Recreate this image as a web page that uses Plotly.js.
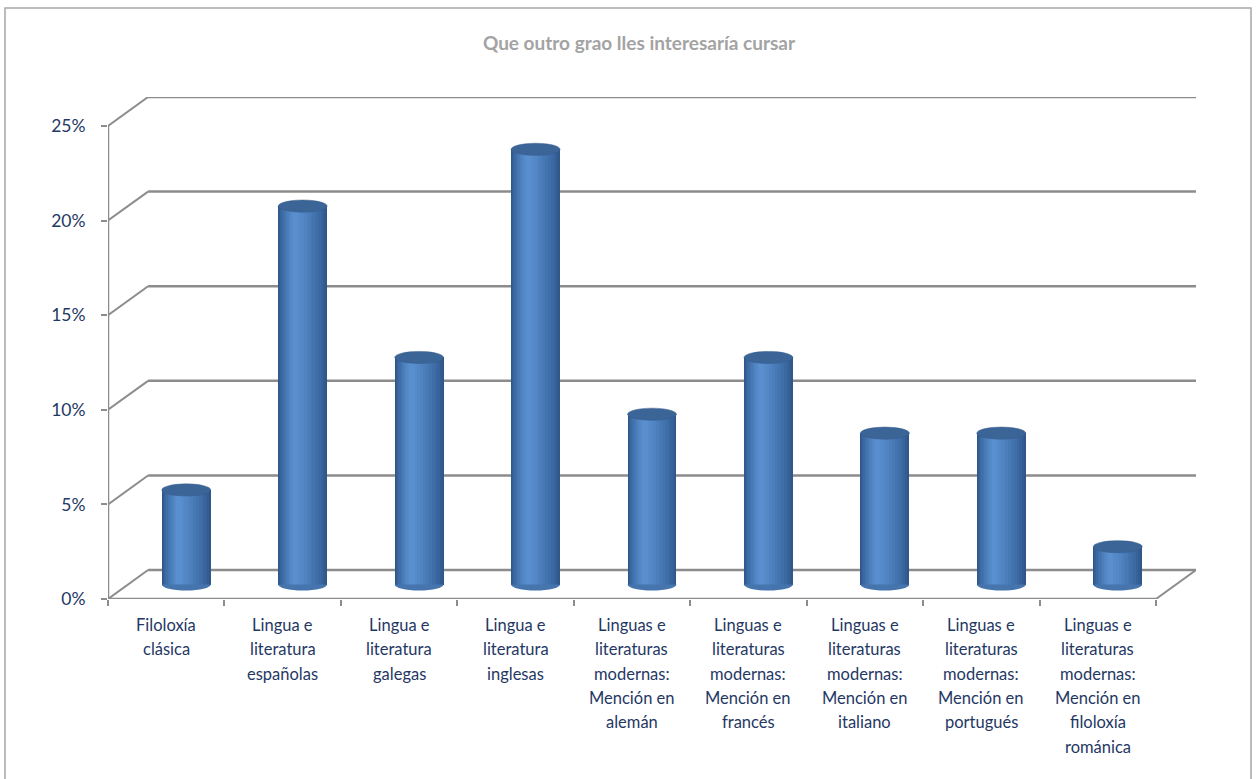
<!DOCTYPE html>
<html>
<head>
<meta charset="utf-8">
<script src="https://cdn.plot.ly/plotly-3.0.1.min.js"></script>
<style>html,body{margin:0;padding:0;background:#fff;}#chart{width:1256px;height:779px;}</style>
</head>
<body>
<div id="chart"></div>
<script>
// ---- data ----
const categories = [
  "Filoloxía<br>clásica",
  "Lingua e<br>literatura<br>españolas",
  "Lingua e<br>literatura<br>galegas",
  "Lingua e<br>literatura<br>inglesas",
  "Linguas e<br>literaturas<br>modernas:<br>Mención en<br>alemán",
  "Linguas e<br>literaturas<br>modernas:<br>Mención en<br>francés",
  "Linguas e<br>literaturas<br>modernas:<br>Mención en<br>italiano",
  "Linguas e<br>literaturas<br>modernas:<br>Mención en<br>portugués",
  "Linguas e<br>literaturas<br>modernas:<br>Mención en<br>filoloxía<br>románica"
];
const values = [5, 20, 12, 23, 9, 12, 8, 8, 2];
const yTickVals = [0, 5, 10, 15, 20, 25];
const yTickText = ["0%", "5%", "10%", "15%", "20%", "25%"];
const titleText = "Que outro grao lles interesaría cursar";

// ---- 3D-look geometry (style) ----
const N = categories.length;
const DX = 0.344;      // depth offset in category units
const DY = 1.53;       // depth offset in value units
const W = 0.42;        // cylinder width
const EH = 0.32;       // ellipse half-height (value units)
const gridColor = "#8c8c8c";
const textColor = "#1f3864";

const centers = categories.map((c, i) => i + 0.5);
const cylX = centers.map(c => c + DX / 2);
const baseY = DY / 2;

// shading layers: [start fraction, end fraction, color]
const layers = [
  [0.00, 1.00, "#2f578a"],
  [0.02, 0.96, "#335d92"],
  [0.04, 0.92, "#37639a"],
  [0.06, 0.87, "#3b69a1"],
  [0.09, 0.82, "#3f6ea8"],
  [0.12, 0.76, "#4374ae"],
  [0.15, 0.70, "#4779b4"],
  [0.18, 0.64, "#4b7ebb"],
  [0.21, 0.58, "#4f83c1"],
  [0.24, 0.52, "#5387c6"],
  [0.27, 0.46, "#568bca"],
  [0.30, 0.41, "#598fce"]
];

const traces = layers.map(L => ({
  type: "bar",
  x: cylX,
  y: values,
  base: values.map(() => baseY),
  width: values.map(() => W * (L[1] - L[0])),
  offset: values.map(() => -W / 2 + W * L[0]),
  marker: { color: L[2], line: { width: 0 } },
  hoverinfo: "skip",
  showlegend: false
}));

// invisible trace for the tick-mark axis
traces.push({ type: "scatter", x: [0, N], y: [0, 0], xaxis: "x2", yaxis: "y",
  mode: "markers", marker: { opacity: 0 }, hoverinfo: "skip", showlegend: false });

const shapes = [];
// back wall gridlines + diagonals
yTickVals.forEach(v => {
  shapes.push({ type: "line", xref: "x", yref: "y", x0: DX, y0: v + DY, x1: N + DX, y1: v + DY,
    line: { color: gridColor, width: 2.5 }, layer: "below" });
  shapes.push({ type: "line", xref: "x", yref: "y", x0: 0, y0: v, x1: DX, y1: v + DY,
    line: { color: gridColor, width: 2 }, layer: "below" });
});
// floor front edge and right edge, front vertical axis
shapes.push({ type: "line", xref: "x", yref: "y", x0: 0, y0: 0, x1: N, y1: 0,
  line: { color: gridColor, width: 2.5 }, layer: "below" });
shapes.push({ type: "line", xref: "x", yref: "y", x0: N, y0: 0, x1: N + DX, y1: DY,
  line: { color: gridColor, width: 2 }, layer: "below" });
shapes.push({ type: "line", xref: "x", yref: "y", x0: 0, y0: 0, x1: 0, y1: yTickVals[yTickVals.length - 1],
  line: { color: gridColor, width: 2.5 }, layer: "below" });

// cylinder bottoms (lower half ellipse) and tops
function halfEllipse(xc, yc, a, b) {
  const k = 0.5523;
  return `M ${xc - a},${yc} C ${xc - a},${yc - k * b} ${xc - k * a},${yc - b} ${xc},${yc - b} ` +
         `C ${xc + k * a},${yc - b} ${xc + a},${yc - k * b} ${xc + a},${yc} Z`;
}
cylX.forEach((xc, i) => {
  shapes.push({ type: "path", xref: "x", yref: "y", path: halfEllipse(xc, baseY, W / 2, EH),
    fillcolor: "#4675ae", line: { width: 0 }, layer: "above" });
  const top = baseY + values[i];
  shapes.push({ type: "circle", xref: "x", yref: "y", x0: xc - W / 2, x1: xc + W / 2,
    y0: top - EH, y1: top + EH, fillcolor: "#3c6597", line: { color: "#35598a", width: 0.5 }, layer: "above" });
});

// outer chart border (paper coords)
const L0 = 108, R0 = 1196, T0 = 97, B0 = 599;
const px = p => (p - L0) / (R0 - L0);
const py = p => (B0 - p) / (B0 - T0);
shapes.push({ type: "rect", xref: "paper", yref: "paper", x0: px(5), x1: px(1251), y0: py(800), y1: py(8),
  line: { color: "#a6a6a6", width: 1.5 }, fillcolor: "rgba(0,0,0,0)" });

// category labels, one annotation per line (for Excel-like line spacing)
const annotations = [];
categories.forEach((c, i) => {
  c.split("<br>").forEach((line, k) => {
    annotations.push({ xref: "x", yref: "paper", x: centers[i], y: 0, text: line, showarrow: false,
      xanchor: "center", yanchor: "middle", yshift: -(26 + 24.3 * k),
      font: { size: 16.5, color: textColor } });
  });
});

const layout = {
  width: 1256, height: 779,
  margin: { l: L0, r: 1256 - R0, t: T0, b: 779 - B0, pad: 0 },
  paper_bgcolor: "#ffffff", plot_bgcolor: "rgba(0,0,0,0)",
  font: { family: "Lato, 'Open Sans', sans-serif", color: textColor, size: 16 },
  title: { text: "<b>" + titleText + "</b>", font: { family: "Lato, sans-serif", size: 19, color: "#a3a3a3" },
    x: (639 - L0) / (R0 - L0), xref: "paper", xanchor: "center", y: 1 - 43 / 779, yref: "container", yanchor: "middle" },
  barmode: "overlay",
  bargap: 0,
  showlegend: false,
  xaxis: {
    range: [0, N + DX], showgrid: false, zeroline: false, showline: false,
    tickmode: "array", tickvals: centers, ticktext: categories, showticklabels: false, ticks: "",
    fixedrange: true
  },
  xaxis2: {
    overlaying: "x", side: "bottom", range: [0, N + DX], showgrid: false, zeroline: false, showline: false,
    tickmode: "array", tickvals: categories.map((c, i) => i).concat([N]), showticklabels: false,
    ticks: "outside", ticklen: 6, tickwidth: 2, tickcolor: gridColor, fixedrange: true
  },
  yaxis: {
    range: [0, 25 + DY], showgrid: false, zeroline: false, showline: false,
    tickmode: "array", tickvals: yTickVals, ticktext: yTickText,
    ticks: "outside", ticklen: 6, tickwidth: 2, tickcolor: gridColor,
    tickfont: { size: 17.5, color: textColor }, ticklabelstandoff: 12, fixedrange: true
  },
  annotations: annotations,
  shapes: shapes
};

Plotly.newPlot("chart", traces, layout, { displayModeBar: false, staticPlot: true });
</script>
</body>
</html>
